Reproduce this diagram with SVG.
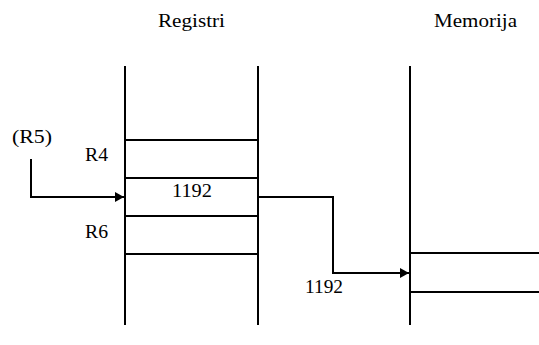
<svg xmlns="http://www.w3.org/2000/svg" width="539" height="345" viewBox="0 0 539 345">
<style>
.l{stroke:#000;stroke-width:2;fill:none}
.t{font-family:"Liberation Serif","Times New Roman",serif;font-size:18px;fill:#000}
</style>
<defs>
<marker id="ah" viewBox="0 0 10 10" refX="10" refY="5" markerWidth="10" markerHeight="10" markerUnits="userSpaceOnUse" orient="auto">
<path d="M1,0 L10,5 L1,10 Z" fill="#000"/>
</marker>
</defs>
<rect width="539" height="345" fill="#fff"/>
<g id="registri">
<text class="t" x="158" y="27" textLength="67" lengthAdjust="spacingAndGlyphs">Registri</text>
<path class="l" d="M125,66V325M258,66V325M125,140H258M125,178H258M125,216H258M125,254H258"/>
<text class="t" x="85" y="161" textLength="23" lengthAdjust="spacingAndGlyphs">R4</text>
<text class="t" x="172" y="197" textLength="40" lengthAdjust="spacingAndGlyphs">1192</text>
<text class="t" x="85" y="238" textLength="23" lengthAdjust="spacingAndGlyphs">R6</text>
</g>
<g id="memorija">
<text class="t" x="434" y="27" textLength="83" lengthAdjust="spacingAndGlyphs">Memorija</text>
<path class="l" d="M410,66V325M410,253H539M410,292H539"/>
</g>
<g id="r5">
<text class="t" x="12" y="143" textLength="40" lengthAdjust="spacingAndGlyphs">(R5)</text>
</g>
<g id="label1192">
<text class="t" x="305" y="293" textLength="38" lengthAdjust="spacingAndGlyphs">1192</text>
</g>
<g id="connectors">
<path class="l" d="M31,159V197H124" marker-end="url(#ah)"/>
<path class="l" d="M258,197H333V273H409" marker-end="url(#ah)"/>
</g>
</svg>
